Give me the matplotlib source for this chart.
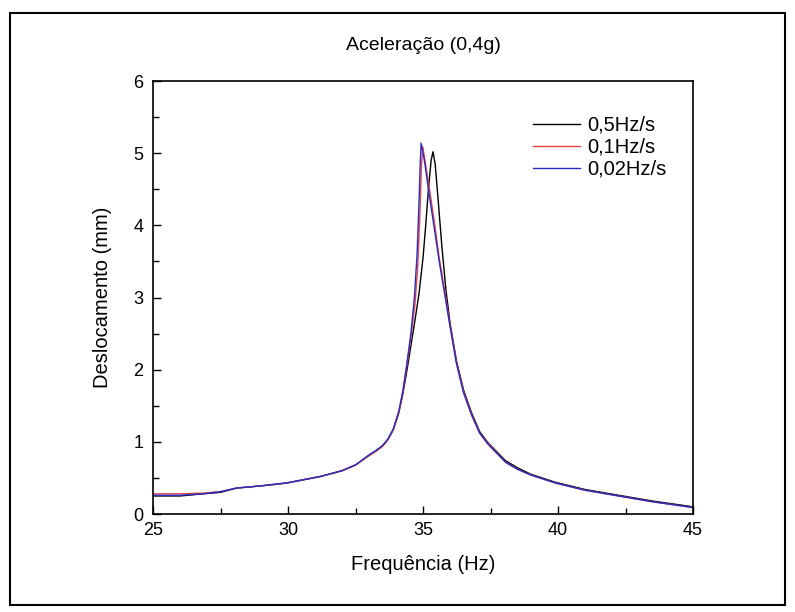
import matplotlib.pyplot as plt
from matplotlib.patches import Rectangle
from matplotlib.ticker import MultipleLocator

plt.rcParams['font.family'] = ['Liberation Sans', 'DejaVu Sans']

# 0,5 Hz/s
f_05 = [25, 26, 26.85, 27.5, 28.1, 29, 29.95, 31.2, 32, 32.5, 33.0, 33.25, 33.5, 33.7,
        33.9, 34.1, 34.25, 34.4, 34.55, 34.7, 34.85, 35.0, 35.1, 35.2, 35.3, 35.37,
        35.45, 35.55, 35.7, 35.85, 36.0, 36.24, 36.5, 36.8, 37.1, 37.4, 38.05, 38.5,
        39, 39.9, 41, 42.4, 43.5, 45]
d_05 = [0.25, 0.25, 0.28, 0.30, 0.36, 0.39, 0.43, 0.52, 0.60, 0.68, 0.81, 0.87, 0.94, 1.03,
        1.17, 1.40, 1.66, 1.98, 2.33, 2.68, 3.05, 3.55, 4.00, 4.50, 4.90, 5.02,
        4.85, 4.40, 3.70, 3.10, 2.65, 2.12, 1.72, 1.40, 1.14, 0.99, 0.74, 0.64,
        0.55, 0.44, 0.34, 0.25, 0.18, 0.10]

# 0,1 Hz/s
f_01 = [25, 26, 26.85, 27.5, 28.1, 29, 29.95, 31.2, 32, 32.5, 33.0, 33.25, 33.5, 33.7,
        33.9, 34.1, 34.25, 34.4, 34.55, 34.7, 34.8, 34.88, 34.94, 34.99, 35.05, 35.2,
        35.4, 35.6, 35.8, 36.0, 36.24, 36.5, 36.8, 37.1, 37.4, 38.05, 38.5,
        39, 39.9, 41, 42.4, 43.5, 45]
d_01 = [0.28, 0.28, 0.29, 0.31, 0.36, 0.39, 0.43, 0.52, 0.60, 0.68, 0.81, 0.87, 0.94, 1.03,
        1.17, 1.40, 1.68, 2.05, 2.45, 2.90, 3.40, 4.10, 4.80, 5.09, 4.95, 4.60,
        4.10, 3.55, 3.10, 2.62, 2.10, 1.70, 1.38, 1.12, 0.98, 0.72, 0.62,
        0.54, 0.43, 0.33, 0.24, 0.17, 0.09]

# 0,02 Hz/s
f_002 = [25, 26, 26.85, 27.5, 28.1, 29, 29.95, 31.2, 32, 32.5, 33.0, 33.25, 33.5, 33.7,
         33.9, 34.1, 34.25, 34.4, 34.55, 34.68, 34.78, 34.85, 34.9, 34.93, 35.05, 35.2,
         35.4, 35.6, 35.8, 36.0, 36.24, 36.5, 36.8, 37.1, 37.4, 38.05, 38.5,
         39, 39.9, 41, 42.4, 43.5, 45]
d_002 = [0.26, 0.26, 0.28, 0.31, 0.36, 0.39, 0.43, 0.52, 0.60, 0.68, 0.82, 0.88, 0.95, 1.04,
         1.18, 1.42, 1.70, 2.08, 2.50, 3.00, 3.60, 4.30, 4.90, 5.14, 4.90, 4.50,
         4.00, 3.50, 3.05, 2.60, 2.08, 1.68, 1.37, 1.12, 0.97, 0.72, 0.62,
         0.54, 0.43, 0.33, 0.24, 0.17, 0.09]

labels = ['0,5Hz/s', '0,1Hz/s', '0,02Hz/s']

fig = plt.figure(figsize=(7.95, 6.12), dpi=100)
ax = fig.add_axes([0.1925, 0.1601, 0.6792, 0.7075])

ax.plot(f_05, d_05, color='black', lw=1.0, label=labels[0])
ax.plot(f_01, d_01, color='#e8453c', lw=1.0, label=labels[1])
ax.plot(f_002, d_002, color='#2b2bc8', lw=1.0, label=labels[2])

ax.set_xlim(25, 45)
ax.set_ylim(0, 6)
ax.xaxis.set_major_locator(MultipleLocator(5))
ax.xaxis.set_minor_locator(MultipleLocator(2.5))
ax.yaxis.set_major_locator(MultipleLocator(1))
ax.yaxis.set_minor_locator(MultipleLocator(0.5))
ax.tick_params(which='both', direction='in', top=False, right=False, labelsize=13)
ax.tick_params(axis='x', which='both', pad=6)
ax.tick_params(axis='y', which='both', pad=7)
ax.tick_params(which='major', length=6, width=1.0)
ax.tick_params(which='minor', length=4, width=1.0)
for s in ax.spines.values():
    s.set_linewidth(1.2)

ax.set_xlabel('Frequência (Hz)', fontsize=14.5, labelpad=11)
ax.set_ylabel('Deslocamento (mm)', fontsize=14.5, labelpad=15)
fig.text(0.532, 0.925, 'Aceleração (0,4g)', fontsize=14, ha='center', va='center')

ax.legend(loc='upper left', frameon=False, fontsize=14.5, handlelength=2.35,
          handletextpad=0.35, labelspacing=0.15, borderpad=0, borderaxespad=0,
          bbox_to_anchor=(0.704, 0.92))

fig.patches.append(Rectangle((0.013, 0.012), 0.974, 0.966, transform=fig.transFigure,
                             fill=False, edgecolor='black', lw=1.5))

fig.savefig('out.png', dpi=100)
